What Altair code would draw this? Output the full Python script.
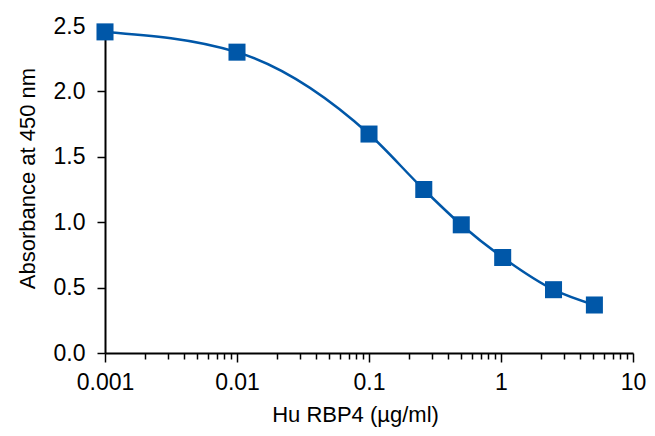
import altair as alt
import pandas as pd

conc = [0.001, 0.01, 0.1, 0.26, 0.5, 1.03, 2.5, 5.1]
absorb = [2.455, 2.30, 1.674, 1.25, 0.98, 0.73, 0.484, 0.367]

major_ticks = [0.001, 0.01, 0.1, 1, 10]
minor_ticks = [m * d for d in [0.001, 0.01, 0.1, 1] for m in range(2, 10)]
y_ticks = [0.0, 0.5, 1.0, 1.5, 2.0, 2.5]

df = pd.DataFrame({"conc": conc, "abs": absorb})

BLUE = "#0057A8"
FONT = "Liberation Sans"

xscale = alt.Scale(type="log", domain=[0.001, 10], nice=False)
yscale = alt.Scale(domain=[0, 2.5], nice=False)

line = alt.Chart(df).mark_line(color=BLUE, strokeWidth=2.5, interpolate="monotone").encode(
    x=alt.X("conc:Q", scale=xscale,
            axis=alt.Axis(values=minor_ticks, labels=False, domain=False, tickSize=6,
                          tickWidth=1.5, tickColor="black", grid=False, title=None, orient="bottom")),
    y=alt.Y("abs:Q", scale=yscale,
            axis=alt.Axis(values=y_ticks, format=".1f", tickSize=8, tickWidth=1.5, tickColor="black",
                          domainColor="black", domainWidth=2, grid=False,
                          labelFontSize=23, labelFont=FONT, labelColor="black", labelPadding=12,
                          title="Absorbance at 450 nm", titleFont=FONT, titleFontSize=22,
                          titleFontWeight="normal", titleColor="black", titlePadding=14,
                          titleY=152)),
)

pts = alt.Chart(df).mark_point(shape="square", filled=True, size=290, color=BLUE, opacity=1).encode(
    x=alt.X("conc:Q", scale=xscale,
            axis=alt.Axis(values=major_ticks, labelExpr="datum.value >= 1 ? format(datum.value, 'd') : format(datum.value, '~g')",
                          tickSize=9, tickWidth=1.5, tickColor="black", domainColor="black", domainWidth=2,
                          grid=False, labelFontSize=23, labelFont=FONT, labelColor="black", labelPadding=9,
                          labelFlush=False, orient="bottom",
                          title="Hu RBP4 (µg/ml)", titleFont=FONT, titleFontSize=22,
                          titleFontWeight="normal", titleColor="black", titlePadding=10,
                          titleX=250)),
    y=alt.Y("abs:Q", scale=yscale),
)

chart = alt.layer(line, pts).resolve_axis(x="independent").properties(
    width=528, height=327,
    background="white",
    autosize=alt.AutoSizeParams(type="none"),
    padding={"left": 97, "top": 18, "right": 14, "bottom": 75},
).configure_view(stroke=None)

chart.save("out.html", embed_options={"renderer": "svg", "actions": False})
